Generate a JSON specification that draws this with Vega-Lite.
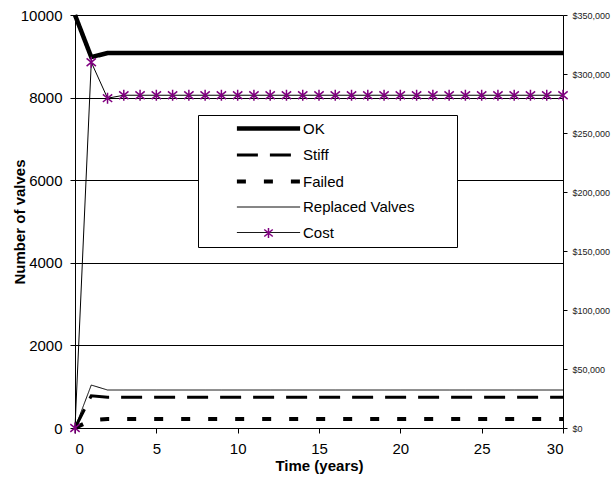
{
  "$schema": "https://vega.github.io/schema/vega-lite/v6.json",
  "width": 488,
  "height": 413,
  "autosize": {"type": "none"},
  "padding": {"left": 75, "top": 15, "right": 50, "bottom": 57},
  "config": {
    "font": "Liberation Sans",
    "view": {"stroke": null},
    "axis": {"domainColor": "#000", "tickColor": "#000", "labelColor": "#000", "titleColor": "#000"}
  },
  "datasets": {
    "valves": [
      {"t":0,"s":"OK","v":10000},{"t":0,"s":"Stiff","v":0},{"t":0,"s":"Failed","v":0},{"t":0,"s":"Replaced Valves","v":0},
      {"t":1,"s":"OK","v":8980},{"t":1,"s":"Stiff","v":780},{"t":1,"s":"Failed","v":190},{"t":1,"s":"Replaced Valves","v":1040},
      {"t":2,"s":"OK","v":9080},{"t":2,"s":"Stiff","v":745},{"t":2,"s":"Failed","v":215},{"t":2,"s":"Replaced Valves","v":920},
      {"t":3,"s":"OK","v":9080},{"t":3,"s":"Stiff","v":745},{"t":3,"s":"Failed","v":215},{"t":3,"s":"Replaced Valves","v":920},
      {"t":4,"s":"OK","v":9080},{"t":4,"s":"Stiff","v":745},{"t":4,"s":"Failed","v":215},{"t":4,"s":"Replaced Valves","v":920},
      {"t":5,"s":"OK","v":9080},{"t":5,"s":"Stiff","v":745},{"t":5,"s":"Failed","v":215},{"t":5,"s":"Replaced Valves","v":920},
      {"t":6,"s":"OK","v":9080},{"t":6,"s":"Stiff","v":745},{"t":6,"s":"Failed","v":215},{"t":6,"s":"Replaced Valves","v":920},
      {"t":7,"s":"OK","v":9080},{"t":7,"s":"Stiff","v":745},{"t":7,"s":"Failed","v":215},{"t":7,"s":"Replaced Valves","v":920},
      {"t":8,"s":"OK","v":9080},{"t":8,"s":"Stiff","v":745},{"t":8,"s":"Failed","v":215},{"t":8,"s":"Replaced Valves","v":920},
      {"t":9,"s":"OK","v":9080},{"t":9,"s":"Stiff","v":745},{"t":9,"s":"Failed","v":215},{"t":9,"s":"Replaced Valves","v":920},
      {"t":10,"s":"OK","v":9080},{"t":10,"s":"Stiff","v":745},{"t":10,"s":"Failed","v":215},{"t":10,"s":"Replaced Valves","v":920},
      {"t":11,"s":"OK","v":9080},{"t":11,"s":"Stiff","v":745},{"t":11,"s":"Failed","v":215},{"t":11,"s":"Replaced Valves","v":920},
      {"t":12,"s":"OK","v":9080},{"t":12,"s":"Stiff","v":745},{"t":12,"s":"Failed","v":215},{"t":12,"s":"Replaced Valves","v":920},
      {"t":13,"s":"OK","v":9080},{"t":13,"s":"Stiff","v":745},{"t":13,"s":"Failed","v":215},{"t":13,"s":"Replaced Valves","v":920},
      {"t":14,"s":"OK","v":9080},{"t":14,"s":"Stiff","v":745},{"t":14,"s":"Failed","v":215},{"t":14,"s":"Replaced Valves","v":920},
      {"t":15,"s":"OK","v":9080},{"t":15,"s":"Stiff","v":745},{"t":15,"s":"Failed","v":215},{"t":15,"s":"Replaced Valves","v":920},
      {"t":16,"s":"OK","v":9080},{"t":16,"s":"Stiff","v":745},{"t":16,"s":"Failed","v":215},{"t":16,"s":"Replaced Valves","v":920},
      {"t":17,"s":"OK","v":9080},{"t":17,"s":"Stiff","v":745},{"t":17,"s":"Failed","v":215},{"t":17,"s":"Replaced Valves","v":920},
      {"t":18,"s":"OK","v":9080},{"t":18,"s":"Stiff","v":745},{"t":18,"s":"Failed","v":215},{"t":18,"s":"Replaced Valves","v":920},
      {"t":19,"s":"OK","v":9080},{"t":19,"s":"Stiff","v":745},{"t":19,"s":"Failed","v":215},{"t":19,"s":"Replaced Valves","v":920},
      {"t":20,"s":"OK","v":9080},{"t":20,"s":"Stiff","v":745},{"t":20,"s":"Failed","v":215},{"t":20,"s":"Replaced Valves","v":920},
      {"t":21,"s":"OK","v":9080},{"t":21,"s":"Stiff","v":745},{"t":21,"s":"Failed","v":215},{"t":21,"s":"Replaced Valves","v":920},
      {"t":22,"s":"OK","v":9080},{"t":22,"s":"Stiff","v":745},{"t":22,"s":"Failed","v":215},{"t":22,"s":"Replaced Valves","v":920},
      {"t":23,"s":"OK","v":9080},{"t":23,"s":"Stiff","v":745},{"t":23,"s":"Failed","v":215},{"t":23,"s":"Replaced Valves","v":920},
      {"t":24,"s":"OK","v":9080},{"t":24,"s":"Stiff","v":745},{"t":24,"s":"Failed","v":215},{"t":24,"s":"Replaced Valves","v":920},
      {"t":25,"s":"OK","v":9080},{"t":25,"s":"Stiff","v":745},{"t":25,"s":"Failed","v":215},{"t":25,"s":"Replaced Valves","v":920},
      {"t":26,"s":"OK","v":9080},{"t":26,"s":"Stiff","v":745},{"t":26,"s":"Failed","v":215},{"t":26,"s":"Replaced Valves","v":920},
      {"t":27,"s":"OK","v":9080},{"t":27,"s":"Stiff","v":745},{"t":27,"s":"Failed","v":215},{"t":27,"s":"Replaced Valves","v":920},
      {"t":28,"s":"OK","v":9080},{"t":28,"s":"Stiff","v":745},{"t":28,"s":"Failed","v":215},{"t":28,"s":"Replaced Valves","v":920},
      {"t":29,"s":"OK","v":9080},{"t":29,"s":"Stiff","v":745},{"t":29,"s":"Failed","v":215},{"t":29,"s":"Replaced Valves","v":920},
      {"t":30,"s":"OK","v":9080},{"t":30,"s":"Stiff","v":745},{"t":30,"s":"Failed","v":215},{"t":30,"s":"Replaced Valves","v":920}
    ],
    "cost": [
      {"t":0,"cost":0,"marker":"Cost"},{"t":1,"cost":310000,"marker":"Cost"},{"t":2,"cost":279500,"marker":"Cost"},
      {"t":3,"cost":282000,"marker":"Cost"},{"t":4,"cost":282000,"marker":"Cost"},{"t":5,"cost":282000,"marker":"Cost"},
      {"t":6,"cost":282000,"marker":"Cost"},{"t":7,"cost":282000,"marker":"Cost"},{"t":8,"cost":282000,"marker":"Cost"},
      {"t":9,"cost":282000,"marker":"Cost"},{"t":10,"cost":282000,"marker":"Cost"},{"t":11,"cost":282000,"marker":"Cost"},
      {"t":12,"cost":282000,"marker":"Cost"},{"t":13,"cost":282000,"marker":"Cost"},{"t":14,"cost":282000,"marker":"Cost"},
      {"t":15,"cost":282000,"marker":"Cost"},{"t":16,"cost":282000,"marker":"Cost"},{"t":17,"cost":282000,"marker":"Cost"},
      {"t":18,"cost":282000,"marker":"Cost"},{"t":19,"cost":282000,"marker":"Cost"},{"t":20,"cost":282000,"marker":"Cost"},
      {"t":21,"cost":282000,"marker":"Cost"},{"t":22,"cost":282000,"marker":"Cost"},{"t":23,"cost":282000,"marker":"Cost"},
      {"t":24,"cost":282000,"marker":"Cost"},{"t":25,"cost":282000,"marker":"Cost"},{"t":26,"cost":282000,"marker":"Cost"},
      {"t":27,"cost":282000,"marker":"Cost"},{"t":28,"cost":282000,"marker":"Cost"},{"t":29,"cost":282000,"marker":"Cost"},
      {"t":30,"cost":282000,"marker":"Cost"}
    ]
  },
  "layer": [
    {
      "data": {"name": "valves"},
      "mark": {"type": "line", "color": "#000", "strokeCap": "butt"},
      "encoding": {
        "x": {
          "field": "t", "type": "quantitative",
          "scale": {"domain": [0, 30], "nice": false},
          "axis": {
            "values": [0, 5, 10, 15, 20, 25, 30], "grid": false, "tickSize": 5,
            "labelFontSize": 15, "labelPadding": 8, "labelAngle": 0,
            "title": "Time (years)", "titleFontSize": 15, "titleFontWeight": "bold", "titlePadding": 2
          }
        },
        "y": {
          "field": "v", "type": "quantitative",
          "scale": {"domain": [0, 10000], "nice": false},
          "axis": {
            "orient": "left", "values": [0, 2000, 4000, 6000, 8000, 10000], "format": "d",
            "grid": true, "gridColor": "#000", "gridWidth": 1, "tickSize": 5,
            "labelFontSize": 15, "labelPadding": 8,
            "title": "Number of valves", "titleFontSize": 15, "titleFontWeight": "bold",
            "titleX": -56, "titleBaseline": "middle"
          }
        },
        "strokeDash": {
          "field": "s", "type": "nominal",
          "scale": {
            "domain": ["OK", "Stiff", "Failed", "Replaced Valves", "Cost"],
            "range": [[1, 0], [21, 12], [9, 18], [1, 0], [1, 0]]
          },
          "legend": {
            "orient": "none", "legendX": 123, "legendY": 100,
            "title": " ", "titleOrient": "right", "titlePadding": 37,
            "strokeColor": "#000", "fillColor": "#fff", "padding": 6,
            "symbolType": "M-7.9,0H7.9", "symbolSize": 64, "symbolStrokeColor": "#000",
            "symbolOffset": 57, "labelOffset": 27, "labelFontSize": 15, "labelColor": "#000",
            "rowPadding": 9.5, "labelLimit": 300
          }
        },
        "strokeWidth": {
          "field": "s", "type": "nominal",
          "scale": {
            "type": "ordinal",
            "domain": ["OK", "Stiff", "Failed", "Replaced Valves", "Cost"],
            "range": [4.5, 3, 4, 1, 1]
          },
          "legend": {
            "orient": "none", "legendX": 123, "legendY": 100,
            "title": " ", "titleOrient": "right", "titlePadding": 37,
            "strokeColor": "#000", "fillColor": "#fff", "padding": 6,
            "symbolType": "M-7.9,0H7.9", "symbolSize": 64, "symbolStrokeColor": "#000",
            "symbolOffset": 57, "labelOffset": 27, "labelFontSize": 15, "labelColor": "#000",
            "rowPadding": 9.5, "labelLimit": 300
          }
        }
      }
    },
    {
      "data": {"name": "cost"},
      "encoding": {
        "x": {"field": "t", "type": "quantitative"},
        "y": {
          "field": "cost", "type": "quantitative",
          "scale": {"domain": [0, 350000], "nice": false},
          "axis": {
            "orient": "right", "values": [0, 50000, 100000, 150000, 200000, 250000, 300000, 350000],
            "format": "$,.0f", "grid": false, "tickSize": 4, "labelFontSize": 9, "labelPadding": 5,
            "labelColor": "#222", "title": null
          }
        }
      },
      "layer": [
        {"mark": {"type": "line", "color": "#000", "strokeWidth": 1}},
        {
          "mark": {"type": "point", "filled": false, "color": "#800080", "size": 121, "strokeWidth": 1.5, "opacity": 1},
          "encoding": {
            "shape": {
              "field": "marker", "type": "nominal",
              "scale": {"domain": ["Cost"], "range": ["M0,-1L0,1M-0.85,-0.7L0.85,0.7M-0.85,0.7L0.85,-0.7"]},
              "legend": {
                "orient": "none", "legendX": 187.5, "legendY": 212, "title": null, "padding": 0,
                "symbolSize": 100, "symbolStrokeColor": "#800080", "symbolFillColor": "transparent",
                "symbolStrokeWidth": 1.5, "symbolOffset": 0, "labelExpr": "''", "labelFontSize": 1
              }
            }
          }
        }
      ]
    }
  ],
  "resolve": {"scale": {"y": "independent"}}
}
